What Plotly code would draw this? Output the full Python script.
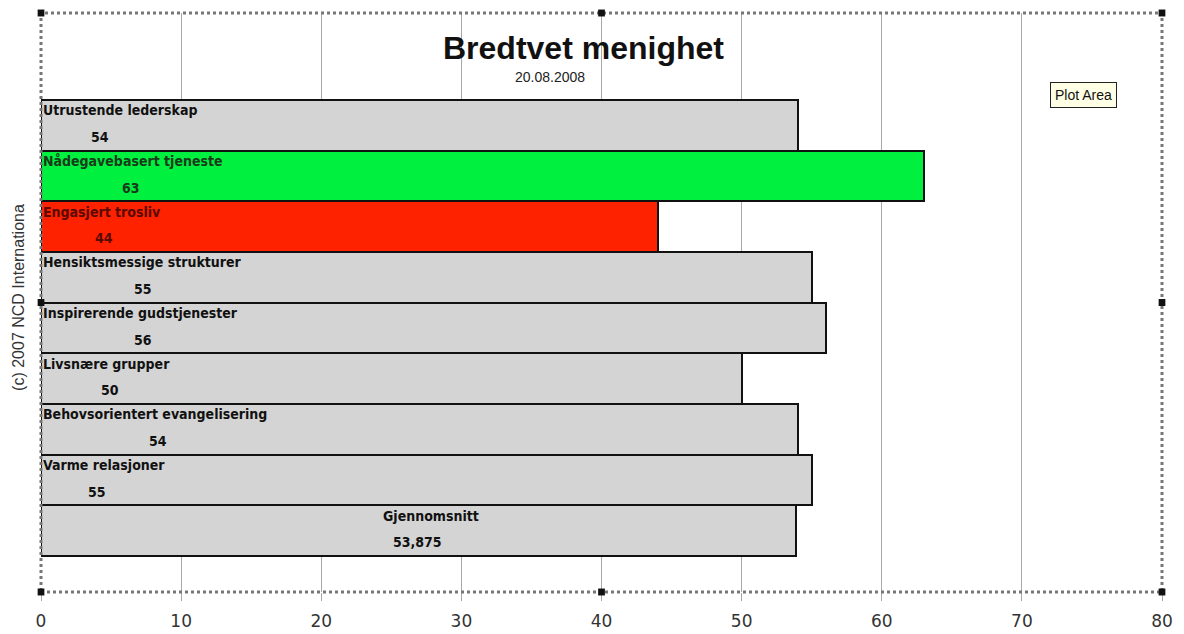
import plotly.graph_objects as go

categories = ["Utrustende lederskap", "Nådegavebasert tjeneste", "Engasjert trosliv",
              "Hensiktsmessige strukturer", "Inspirerende gudstjenester", "Livsnære grupper",
              "Behovsorientert evangelisering", "Varme relasjoner", "Gjennomsnitt"]
values = [54, 63, 44, 55, 56, 50, 54, 55, 53.875]
bar_colors = ["#d4d4d4", "#00f040", "#ff2200", "#d4d4d4", "#d4d4d4", "#d4d4d4",
              "#d4d4d4", "#d4d4d4", "#d4d4d4"]
text_colors = ["#111", "#1a3a1a", "#5a0a00", "#111", "#111", "#111", "#111", "#111", "#111"]
# x positions (data units) where Excel placed the value labels
value_label_x = [4.2, 6.4, 4.5, 7.3, 7.3, 4.9, 8.35, 4.0, 26.9]
x_ticks = [0, 10, 20, 30, 40, 50, 60, 70, 80]

positions = list(range(len(categories)))

fig = go.Figure()
fig.add_trace(go.Bar(
    x=values, y=positions, orientation="h", width=1,
    marker=dict(color=bar_colors, line=dict(color="#111", width=2)),
    hoverinfo="skip", showlegend=False,
))

LABEL_FONT = "Liberation Sans Narrow, DejaVu Sans Condensed, Arial Narrow, sans-serif"
ann = []
for i, (c, v) in enumerate(zip(categories, values)):
    txt = f"{v:g}".replace(".", ",")
    if c == "Gjennomsnitt":
        ann.append(dict(x=27.8, y=i - 0.3, text=f"<b>{c}</b>", showarrow=False,
                        xanchor="center", yanchor="middle",
                        font=dict(family=LABEL_FONT, size=14, color=text_colors[i])))
    else:
        ann.append(dict(x=0, y=i - 0.3, text=f"<b>{c}</b>", showarrow=False,
                        xanchor="left", yanchor="middle", xshift=0,
                        font=dict(family=LABEL_FONT, size=14, color=text_colors[i])))
    ann.append(dict(x=value_label_x[i], y=i + 0.23, text=f"<b>{txt}</b>", showarrow=False,
                    xanchor="center", yanchor="middle",
                    font=dict(family=LABEL_FONT, size=14, color=text_colors[i])))

# Title and subtitle
ann.append(dict(xref="paper", yref="paper", x=0.484, y=0.94, text="<b>Bredtvet menighet</b>",
                showarrow=False, xanchor="center", yanchor="middle",
                font=dict(family="Liberation Sans, Arial, sans-serif", size=32, color="#111")))
ann.append(dict(xref="paper", yref="paper", x=0.454, y=0.889, text="20.08.2008",
                showarrow=False, xanchor="center", yanchor="middle",
                font=dict(family="Liberation Sans, Arial, sans-serif", size=14, color="#222")))
# "Plot Area" tooltip
ann.append(dict(xref="paper", yref="paper", x=0.930, y=0.858, text="Plot Area",
                showarrow=False, xanchor="center", yanchor="middle",
                bgcolor="#ffffe6", bordercolor="#222", borderwidth=1, borderpad=4,
                font=dict(family="Liberation Sans, Tahoma, sans-serif", size=14, color="#111")))
# rotated copyright text on the left
ann.append(dict(xref="paper", yref="paper", x=-0.0196, y=0.508, text="(c) 2007 NCD Internationa",
                showarrow=False, xanchor="center", yanchor="middle", textangle=-90, borderpad=0,
                font=dict(family="Liberation Sans, Arial, sans-serif", size=16, color="#333")))

shapes = [dict(type="rect", xref="paper", yref="paper", x0=0, x1=1, y0=0, y1=1,
               line=dict(color="#777", width=3, dash="dot"), layer="above")]
# selection handles
for hx, hy in [(0, 0), (0.5, 0), (1, 0), (0, 0.5), (1, 0.5), (0, 1), (0.5, 1), (1, 1)]:
    shapes.append(dict(type="rect", xref="paper", yref="paper",
                       x0=hx - 0.003, x1=hx + 0.003, y0=hy - 0.006, y1=hy + 0.006,
                       fillcolor="#111", line=dict(width=0), layer="above"))

fig.update_layout(
    width=1176, height=626,
    margin=dict(l=33, r=22, t=5, b=42, autoexpand=False),
    paper_bgcolor="white", plot_bgcolor="white",
    bargap=0,
    annotations=ann, shapes=shapes,
    xaxis=dict(range=[0, 80], tickvals=x_ticks, showgrid=True, gridcolor="#a8a8a8", gridwidth=1,
               ticks="outside", ticklen=8, tickcolor="#a8a8a8", zeroline=False,
               showline=False, automargin=False, ticklabelstandoff=6,
               tickfont=dict(family="DejaVu Sans, Tahoma, sans-serif", size=17, color="#333")),
    yaxis=dict(range=[9.21, -2.22], showticklabels=False, showgrid=False, zeroline=False,
               ticks="", automargin=False),
)

fig.write_html("out.html")
